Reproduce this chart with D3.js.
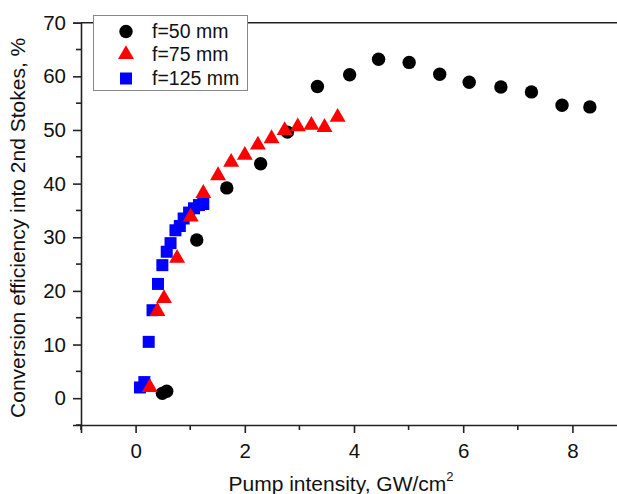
<!DOCTYPE html>
<html><head><meta charset="utf-8">
<script src="https://cdn.jsdelivr.net/npm/d3@7"></script>
<style>body{margin:0;background:#fff;} text{font-family:"Liberation Sans",Arial,sans-serif;}</style>
</head><body><svg id="c" width="617" height="494"></svg>
<script>
const seriesNames = ["f=50 mm", "f=75 mm", "f=125 mm"];
const f50x = [0.49,0.57,1.12,1.67,2.29,2.78,3.33,3.92,4.45,5.01,5.57,6.11,6.69,7.25,7.81,8.32];
const f50y = [0.9,1.3,29.5,39.2,43.7,49.6,58.1,60.3,63.2,62.6,60.4,58.9,58.0,57.1,54.6,54.3];
const f75x = [0.26,0.40,0.52,0.76,1.01,1.24,1.51,1.75,2.00,2.24,2.49,2.73,2.97,3.22,3.46,3.70];
const f75y = [2.0,16.2,18.6,26.1,33.8,38.2,41.5,44.0,45.3,47.2,48.4,49.9,50.6,50.9,50.5,52.4];
const f125x = [0.08,0.16,0.24,0.31,0.41,0.49,0.57,0.64,0.73,0.81,0.88,0.98,1.07,1.16,1.24];
const f125y = [2.0,3.0,10.5,16.4,21.3,24.8,27.3,28.9,31.3,32.1,33.5,34.6,35.4,36.0,36.2];
const xTicks = [0,2,4,6,8];
const yTicks = [0,10,20,30,40,50,60,70];

const svg = d3.select("#c");
const x = d3.scaleLinear().domain([-1, 9]).range([81, 627]);
const y = d3.scaleLinear().domain([-5, 70]).range([425, 22.7]);

// frame top line
svg.append("line").attr("x1", 81).attr("x2", 627).attr("y1", y(70)).attr("y2", y(70))
  .attr("stroke", "#222").attr("stroke-width", 1.6);

// minor ticks
const xMinor = d3.range(-1, 10, 2);
const yMinor = d3.range(-5, 70, 10);
const gx = svg.append("g").attr("transform", `translate(0,${y(-5)})`)
  .call(d3.axisBottom(x).tickValues(xTicks).tickSize(8).tickPadding(10).tickFormat(d3.format("d")));
gx.append("g").selectAll("line").data(xMinor).join("line")
  .attr("x1", d => x(d)).attr("x2", d => x(d)).attr("y1", 0).attr("y2", 5).attr("stroke", "#222").attr("stroke-width", 1.6);
const gy = svg.append("g").attr("transform", `translate(${x(-1)},0)`)
  .call(d3.axisLeft(y).tickValues(yTicks).tickSize(8).tickPadding(7).tickFormat(d3.format("d")));
gy.append("g").selectAll("line").data(yMinor).join("line")
  .attr("y1", d => y(d)).attr("y2", d => y(d)).attr("x1", 0).attr("x2", -5).attr("stroke", "#222").attr("stroke-width", 1.6);
[gx, gy].forEach(g => {
  g.select(".domain").attr("stroke", "#222").attr("stroke-width", 1.6);
  g.selectAll(".tick line").attr("stroke", "#222").attr("stroke-width", 1.6);
  g.selectAll("text").attr("font-size", 20.5).attr("fill", "#111").attr("font-family", "Liberation Sans, Arial, sans-serif");
});

// data
const blk = f50x.map((v, i) => [v, f50y[i]]);
const red = f75x.map((v, i) => [v, f75y[i]]);
const blu = f125x.map((v, i) => [v, f125y[i]]);
const plot = svg.append("g");
plot.selectAll("circle.b").data(blk).join("circle").attr("class", "b")
  .attr("cx", d => x(d[0])).attr("cy", d => y(d[1])).attr("r", 6.7).attr("fill", "#000");
plot.selectAll("rect.s").data(blu).join("rect").attr("class", "s")
  .attr("x", d => x(d[0]) - 6).attr("y", d => y(d[1]) - 6).attr("width", 12).attr("height", 12).attr("fill", "#0000ff");
const tri = d3.symbol().type(d3.symbolTriangle).size(110);
plot.selectAll("path.t").data(red).join("path").attr("class", "t")
  .attr("transform", d => `translate(${x(d[0])},${y(d[1])})`).attr("d", tri).attr("fill", "#ff0000");

// legend
const lg = svg.append("g");
lg.append("rect").attr("x", 93.5).attr("y", 15.5).attr("width", 154).attr("height", 75)
  .attr("fill", "#fff").attr("stroke", "#888").attr("stroke-width", 1);
const ly = [31.5, 54.5, 78.5];
lg.append("circle").attr("cx", 126).attr("cy", ly[0]).attr("r", 6.7).attr("fill", "#000");
lg.append("path").attr("transform", `translate(126,${ly[1]})`).attr("d", tri).attr("fill", "#ff0000");
lg.append("rect").attr("x", 120).attr("y", ly[2] - 6).attr("width", 12).attr("height", 12).attr("fill", "#0000ff");
lg.selectAll("text").data(seriesNames).join("text")
  .attr("x", 152).attr("y", (d, i) => ly[i]).attr("dy", "0.35em")
  .attr("font-size", 19.5).attr("fill", "#111").text(d => d);

// axis titles
svg.append("text").attr("transform", `translate(25,${(y(70) + y(-5)) / 2 + 4}) rotate(-90)`)
  .attr("text-anchor", "middle").attr("font-size", 21).attr("fill", "#111")
  .text("Conversion efficiency into 2nd Stokes, %");
const xt = svg.append("text").attr("x", 341).attr("y", 491).attr("text-anchor", "middle")
  .attr("font-size", 21).attr("fill", "#111");
xt.append("tspan").text("Pump intensity, GW/cm");
xt.append("tspan").attr("font-size", 13).attr("dy", -10).text("2");
</script></body></html>
